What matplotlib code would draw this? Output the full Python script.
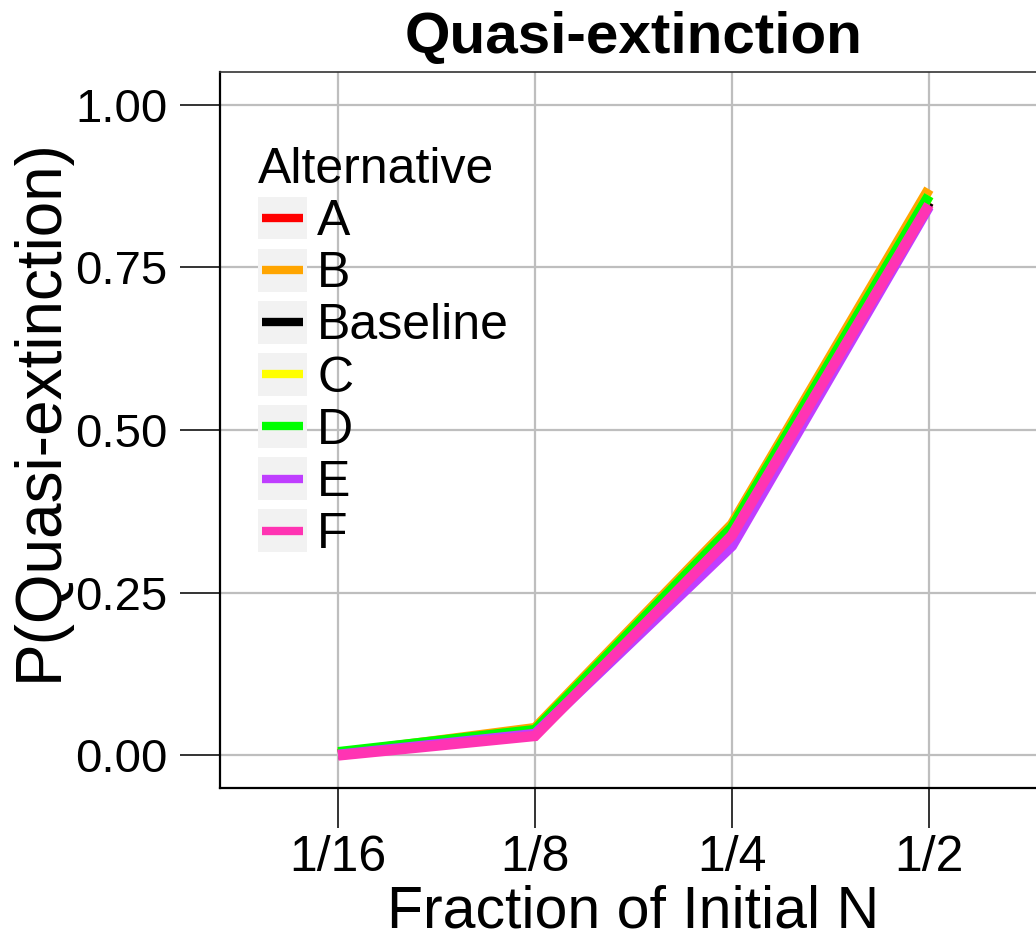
import matplotlib
matplotlib.use("Agg")
import matplotlib.pyplot as plt
from matplotlib.legend_handler import HandlerLine2D
from matplotlib.lines import Line2D
from matplotlib.patches import Rectangle

plt.rcParams['font.family'] = ['Liberation Sans', 'DejaVu Sans']

# data
fractions = ['1/16', '1/8', '1/4', '1/2']
alternatives = ['A', 'B', 'Baseline', 'C', 'D', 'E', 'F']
p_extinct = {
    'A':        [0.002, 0.035, 0.340, 0.850],
    'B':        [0.003, 0.042, 0.355, 0.870],
    'Baseline': [0.002, 0.035, 0.345, 0.850],
    'C':        [0.003, 0.038, 0.335, 0.860],
    'D':        [0.005, 0.039, 0.350, 0.860],
    'E':        [0.001, 0.033, 0.322, 0.843],
    'F':        [0.000, 0.030, 0.338, 0.846],
}
colors = ['#FF0000', '#FFA500', '#000000', '#FFFF00', '#00FF00', '#BF3EFF', '#FF34B3']


class KeyHandler(HandlerLine2D):
    # ggplot style legend key: grey box with a short line in it
    def create_artists(self, legend, orig_handle, xdescent, ydescent,
                       width, height, fontsize, trans):
        box = Rectangle((-xdescent, -ydescent), width, height,
                        facecolor='#F2F2F2', edgecolor='none', transform=trans)
        ymid = -ydescent + height / 2
        ln = Line2D([-xdescent + width * 0.08, -xdescent + width * 0.92], [ymid, ymid],
                    color=orig_handle.get_color(), lw=6, solid_capstyle='butt',
                    transform=trans)
        return [box, ln]


fig = plt.figure(figsize=(10.36, 9.40), dpi=100)
ax = fig.add_axes([220 / 1036, 1 - 788 / 940, 827 / 1036, 716 / 940])

xs = list(range(len(fractions)))
for name, c in zip(alternatives, colors):
    ax.plot(xs, p_extinct[name], color=c, lw=7.5, label=name,
            solid_capstyle='butt', solid_joinstyle='miter')

ax.set_xlim(-0.6, 3.6)
ax.set_ylim(-0.05, 1.05)
ax.set_xticks(xs)
ax.set_xticklabels(fractions)
ax.set_yticks([0, 0.25, 0.5, 0.75, 1.0])
ax.set_yticklabels(['0.00', '0.25', '0.50', '0.75', '1.00'])

ax.grid(True, color='#BEBEBE', lw=1.6)
ax.set_axisbelow(True)
ax.tick_params(axis='both', length=29, width=1.4, color='#333333', labelsize=34,
               labelcolor='black')
ax.tick_params(axis='x', labelsize=36, pad=5)
ax.tick_params(axis='y', pad=9)

for s in ['left', 'bottom']:
    ax.spines[s].set_color('black')
    ax.spines[s].set_linewidth(1.6)
ax.spines['top'].set_color('#333333')
ax.spines['top'].set_linewidth(1.2)
ax.spines['right'].set_visible(False)

ax.set_xlabel('Fraction of Initial N', fontsize=42.5, labelpad=2)
ax.set_ylabel('P(Quasi-extinction)', fontsize=46)
ax.yaxis.set_label_coords(-0.182, 0.528)
ax.set_title('Quasi-extinction', fontsize=42, fontweight='bold', pad=14)

leg = ax.legend(title='Alternative', loc='upper left', bbox_to_anchor=(0.046, 0.895),
                frameon=False, fontsize=36, title_fontsize=36, alignment='left',
                handlelength=0.98, handleheight=0.94, handletextpad=0.2,
                labelspacing=0.07, borderpad=0, borderaxespad=0,
                handler_map={Line2D: KeyHandler()})

fig.savefig('out.png', dpi=100)
